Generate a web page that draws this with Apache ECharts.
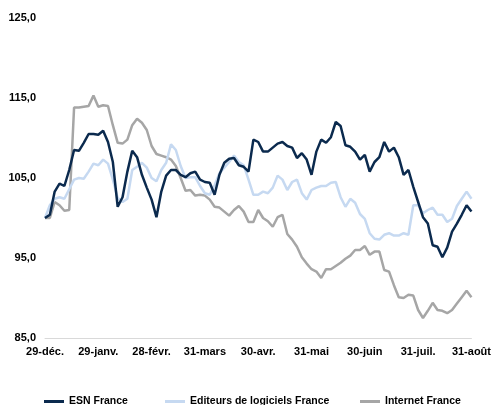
<!DOCTYPE html>
<html>
<head>
<meta charset="utf-8">
<script src="https://cdn.jsdelivr.net/npm/echarts@6/dist/echarts.min.js"></script>
<style>
  html, body { margin: 0; padding: 0; background: #ffffff; }
  #chart { width: 494px; height: 405px; }
</style>
</head>
<body>
<div id="chart"></div>
<script>
// Tick labels of the x axis (one every 11 points)
const tickLabels = ['29-déc.', '29-janv.', '28-févr.', '31-mars', '30-avr.', '31-mai', '30-juin', '31-juil.', '31-août'];
const pointsPerTick = 11;

const seriesNames = ['ESN France', 'Editeurs de logiciels France', 'Internet France'];

const esnFrance = [
  100.0, 100.4, 103.3, 104.3, 104.0, 106.0, 108.5, 108.4, 109.4, 110.5, 110.5,
  110.4, 110.9, 109.5, 107.0, 101.4, 102.6, 105.8, 108.4, 107.6, 105.4, 103.8,
  102.3, 100.1, 103.3, 105.3, 106.0, 106.0, 105.4, 105.1, 105.6, 105.8, 104.8,
  104.5, 104.4, 102.9, 105.4, 106.9, 107.4, 107.5, 106.6, 106.4, 105.8, 109.8,
  109.5, 108.3, 108.3, 108.8, 109.3, 109.5, 109.0, 108.8, 107.5, 108.1, 107.3,
  105.4, 108.3, 109.8, 109.4, 110.1, 112.0, 111.5, 109.1, 108.9, 108.3, 107.3,
  107.9, 105.8, 107.0, 107.6, 109.5, 108.3, 108.8, 107.6, 105.4, 106.0, 103.9,
  102.0, 100.1, 99.3, 96.6, 96.4, 95.1, 96.3, 98.3, 99.3, 100.4, 101.6, 100.8
];

const editeursFrance = [
  100.0, 101.6, 102.4, 102.6, 102.4, 103.6, 104.8, 105.0, 104.9, 105.8, 106.8,
  106.6, 107.3, 106.8, 104.8, 102.5, 102.0, 102.4, 106.0, 106.4, 106.9, 106.3,
  105.0, 104.6, 106.0, 106.9, 109.2, 108.5, 106.5, 105.0, 105.1, 105.1, 104.0,
  103.1, 102.9, 104.1, 105.6, 106.3, 107.0, 107.8, 107.0, 106.6, 104.8, 102.9,
  102.9, 103.3, 103.1, 103.8, 105.3, 104.8, 103.5, 104.5, 104.8, 103.1, 102.3,
  103.5, 103.8, 104.0, 104.0, 104.4, 104.5, 102.6, 101.4, 102.4, 101.9, 100.5,
  99.9, 98.1, 97.4, 97.3, 97.9, 98.1, 97.8, 97.8, 98.1, 97.9, 101.6,
  101.6, 100.6, 101.0, 101.3, 100.4, 100.4, 99.5, 99.9, 101.5, 102.4, 103.3, 102.4
];

const internetFrance = [
  100.0, 100.0, 102.0, 101.6, 100.9, 101.0, 113.8, 113.8, 113.9, 114.0, 115.3,
  113.9, 114.1, 114.0, 111.6, 109.4, 109.3, 109.8, 111.6, 112.4, 111.9, 111.0,
  109.0, 108.0, 107.8, 107.6, 107.3, 106.5, 105.0, 103.4, 103.5, 102.8, 102.9,
  102.8, 102.3, 101.4, 101.3, 100.8, 100.3, 101.0, 101.5, 100.8, 99.5, 99.5,
  101.0, 100.0, 99.6, 98.9, 100.1, 100.4, 98.0, 97.3, 96.4, 95.1, 94.3,
  93.6, 93.3, 92.5, 93.6, 93.6, 94.0, 94.4, 94.9, 95.3, 96.0, 96.0,
  96.5, 95.4, 95.8, 95.8, 93.5, 93.3, 91.6, 90.1, 90.0, 90.4, 90.3,
  88.5, 87.5, 88.4, 89.4, 88.5, 88.4, 88.1, 88.5, 89.3, 90.1, 90.9, 90.1
];

const colors = ['#0b2a4e', '#c6d9f1', '#a6a6a6'];

// Build category list: labelled point every pointsPerTick, unique keys in between
const categories = esnFrance.map((_, i) => {
  const t = Math.floor(i / pointsPerTick);
  return i % pointsPerTick === 0 ? tickLabels[t] : tickLabels[t] + '#' + (i % pointsPerTick);
});

const font = '"Liberation Sans", Arial, sans-serif';
const chart = echarts.init(document.getElementById('chart'), null, { renderer: 'canvas' });

function legendAt(left, name) {
  return {
    left: left, top: 396, padding: 0,
    data: [name],
    icon: 'rect',
    itemWidth: 20, itemHeight: 3,
    textStyle: { fontFamily: font, fontSize: 10.5, fontWeight: 'bold', color: '#000' },
    selectedMode: false
  };
}

const option = {
  animation: false,
  backgroundColor: '#ffffff',
  color: colors,
  grid: { left: 45, right: 20, top: 18, bottom: 67 },
  legend: [
    legendAt(44, seriesNames[0]),
    legendAt(165, seriesNames[1]),
    legendAt(360, seriesNames[2])
  ],
  xAxis: {
    type: 'category',
    data: categories,
    boundaryGap: false,
    axisLine: { lineStyle: { color: '#d9d9d9', width: 1 } },
    axisTick: { show: false },
    axisLabel: {
      interval: pointsPerTick - 1,
      margin: 8,
      fontFamily: font, fontSize: 11, fontWeight: 'bold', color: '#000',
      formatter: (v) => v.split('#')[0]
    },
    splitLine: { show: false }
  },
  yAxis: {
    type: 'value',
    min: 85, max: 125, interval: 10,
    axisLine: { show: false },
    axisTick: { show: false },
    splitLine: { show: false },
    axisLabel: {
      margin: 9,
      fontFamily: font, fontSize: 11, fontWeight: 'bold', color: '#000',
      formatter: (v) => v.toFixed(1).replace('.', ',')
    }
  },
  series: [
    { name: seriesNames[2], type: 'line', data: internetFrance, showSymbol: false, z: 2,
      lineStyle: { width: 2.5, color: colors[2] }, itemStyle: { color: colors[2] } },
    { name: seriesNames[1], type: 'line', data: editeursFrance, showSymbol: false, z: 3,
      lineStyle: { width: 2.5, color: colors[1] }, itemStyle: { color: colors[1] } },
    { name: seriesNames[0], type: 'line', data: esnFrance, showSymbol: false, z: 4,
      lineStyle: { width: 2.5, color: colors[0] }, itemStyle: { color: colors[0] } }
  ]
};
chart.setOption(option);
</script>
</body>
</html>
